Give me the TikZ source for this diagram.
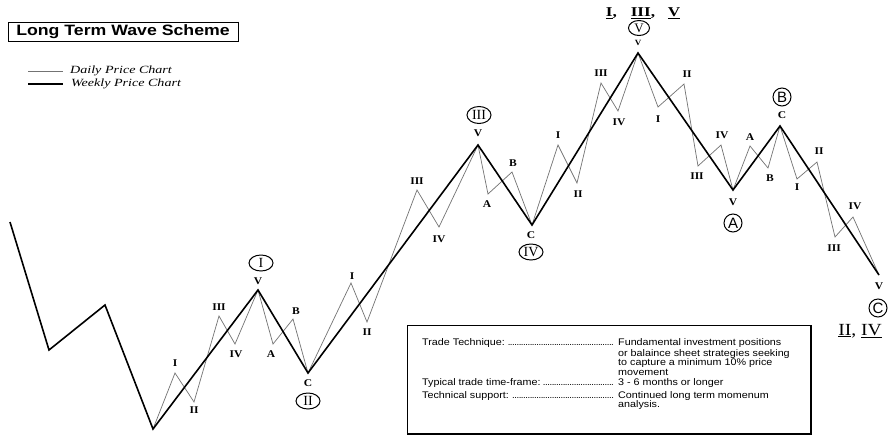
\documentclass[tikz,border=0pt]{standalone}
\usepackage{graphicx}
\usepackage{fontspec}
\setmainfont{Liberation Serif}
\newfontfamily\arialf{Liberation Sans}
\usetikzlibrary{shapes.geometric}
\newcommand\Xs[1]{\scalebox{1.12}[1]{#1}}
\newcommand\Xl[1]{\scalebox{1.12}[1]{#1}}
\begin{document}
\begin{tikzpicture}[x=1pt,y=-1pt,
  weekly/.style={line width=1.6pt, black, line join=miter},
  daily/.style={line width=0.7pt, black!55, line join=miter},
  lbl/.style={inner sep=0pt, font=\bfseries\fontsize{10.3}{10.3}\selectfont},
  smalllbl/.style={inner sep=0pt, font=\bfseries\fontsize{8}{8}\selectfont},
  cr/.style={draw, ellipse, line width=1pt, minimum width=24pt, minimum height=16pt, inner sep=0pt, font=\fontsize{14}{14}\selectfont},
  cl/.style={draw, circle, line width=1pt, minimum size=18pt, inner sep=0pt, font=\arialf\fontsize{15}{15}\selectfont},
  boxtxt/.style={inner sep=0pt, anchor=base west, font=\arialf\fontsize{9.6}{9.6}\selectfont},
  legtxt/.style={inner sep=0pt, anchor=west, font=\itshape\fontsize{11}{11}\selectfont}
]
\useasboundingbox (0,0) rectangle (889,437);
\fill[white] (0,0) rectangle (889,437);

% title and legend
\node[draw, line width=1pt, minimum width=230pt, minimum height=19pt, inner sep=0pt,
      font=\arialf\bfseries\fontsize{15}{15}\selectfont] (title) at (123,31.5)
      {\scalebox{1.18}[1]{Long Term Wave Scheme}};
\draw[line width=1.6pt] (title.north east) -- (title.south east) -- (title.south west);
\coordinate (lg1a) at (28,71); \coordinate (lg1b) at (63,71);
\coordinate (lg2a) at (28,84); \coordinate (lg2b) at (63,84);
\draw[line width=0.6pt, black!55] (lg1a) -- (lg1b);
\draw[line width=1.2pt] (lg2a) -- (lg2b);
\node[legtxt] (legd) at (70,71) {\scalebox{1.28}[1]{Daily Price Chart}};
\node[legtxt] (legw) at (71,84) {\scalebox{1.28}[1]{Weekly Price Chart}};

% weekly points
\coordinate (w0) at (10,222);
\coordinate (w1) at (49,350);
\coordinate (w2) at (105,305);
\coordinate (w3) at (153,429);
\coordinate (w4) at (258,290);
\coordinate (w5) at (308,373);
\coordinate (w6) at (478,145);
\coordinate (w7) at (532,225);
\coordinate (w8) at (638,53);
\coordinate (w9) at (733,190);
\coordinate (w10) at (780,126);
\coordinate (w11) at (879,275);
% daily points
\coordinate (a1) at (175,373); \coordinate (a2) at (194,402);
\coordinate (a3) at (219,316); \coordinate (a4) at (235,344);
\coordinate (a5) at (273,344); \coordinate (a6) at (293,319);
\coordinate (b1) at (351,283); \coordinate (b2) at (367,322);
\coordinate (b3) at (417,190); \coordinate (b4) at (439,227);
\coordinate (b5) at (488,194); \coordinate (b6) at (512,172);
\coordinate (c1) at (558,145); \coordinate (c2) at (577,183);
\coordinate (c3) at (601,83);  \coordinate (c4) at (618,111);
\coordinate (e1) at (658,107); \coordinate (e2) at (684,84);
\coordinate (e3) at (698,166); \coordinate (e4) at (721,145);
\coordinate (e5) at (750,146); \coordinate (e6) at (768,168);
\coordinate (f1) at (797,179); \coordinate (f2) at (817,162);
\coordinate (f3) at (835,237); \coordinate (f4) at (853,217);

\draw[daily] (w3) -- (a1) -- (a2) -- (a3) -- (a4) -- (w4) -- (a5) -- (a6) -- (w5)
  -- (b1) -- (b2) -- (b3) -- (b4) -- (w6) -- (b5) -- (b6) -- (w7)
  -- (c1) -- (c2) -- (c3) -- (c4) -- (w8) -- (e1) -- (e2) -- (e3) -- (e4) -- (w9)
  -- (e5) -- (e6) -- (w10) -- (f1) -- (f2) -- (f3) -- (f4) -- (w11);
\draw[weekly] (w0) -- (w1) -- (w2) -- (w3) -- (w4) -- (w5) -- (w6) -- (w7) -- (w8)
  -- (w9) -- (w10) -- (w11);

% wave labels
\node[lbl] (l1) at (175,363) {\Xl{I}};
\node[lbl] (l2) at (194,410) {\Xl{II}};
\node[lbl] (l3) at (219,307) {\Xl{III}};
\node[lbl] (l4) at (236,354) {\Xl{IV}};
\node[lbl] (l5) at (258,281) {\Xl{V}};
\node[lbl] (l6) at (271,354) {\Xl{A}};
\node[lbl] (l7) at (296,311) {\Xl{B}};
\node[lbl] (l8) at (308,383) {\Xl{C}};
\node[lbl] (m1) at (352,276) {\Xl{I}};
\node[lbl] (m2) at (367,332) {\Xl{II}};
\node[lbl] (m3) at (417,181) {\Xl{III}};
\node[lbl] (m4) at (439,239) {\Xl{IV}};
\node[lbl] (m5) at (478,133) {\Xl{V}};
\node[lbl] (m6) at (487,204) {\Xl{A}};
\node[lbl] (m7) at (513,163) {\Xl{B}};
\node[lbl] (m8) at (531,235) {\Xl{C}};
\node[lbl] (n1) at (558,135) {\Xl{I}};
\node[lbl] (n2) at (578,194) {\Xl{II}};
\node[lbl] (n3) at (601,73) {\Xl{III}};
\node[lbl] (n4) at (619,122) {\Xl{IV}};
\node[smalllbl] (n5) at (638,43) {\Xl{V}};
\node[lbl] (p1) at (658,119) {\Xl{I}};
\node[lbl] (p2) at (687,74) {\Xl{II}};
\node[lbl] (p3) at (697,176) {\Xl{III}};
\node[lbl] (p4) at (722,135) {\Xl{IV}};
\node[lbl] (p5) at (733,202) {\Xl{V}};
\node[lbl] (p6) at (750,137) {\Xl{A}};
\node[lbl] (p7) at (770,178) {\Xl{B}};
\node[lbl] (p8) at (782,115) {\Xl{C}};
\node[lbl] (q1) at (797,187) {\Xl{I}};
\node[lbl] (q2) at (819,151) {\Xl{II}};
\node[lbl] (q3) at (834,248) {\Xl{III}};
\node[lbl] (q4) at (855,206) {\Xl{IV}};
\node[lbl] (q5) at (879,286) {\Xl{V}};

% circled labels
\node[cr] (ci) at (261,263) {I};
\node[cr] (cii) at (308,401) {II};
\node[cr, minimum width=24pt, minimum height=17pt] (ciii) at (479,115) {III};
\node[cr] (civ) at (531,252) {IV};
\node[cr, minimum width=21pt, minimum height=15pt, font=\fontsize{13}{13}\selectfont] (cv) at (639,28) {V};
\node[cl] (ca) at (733,223) {A};
\node[cl] (cb) at (782,97) {B};
\node[cl] (cc) at (878,308) {C};

% top and bottom right big labels
\node[inner sep=0pt, font=\bfseries\fontsize{13.5}{13.5}\selectfont] (top) at (643,13)
  {\scalebox{1.27}[1]{\underline{I},\hspace{11pt}\underline{III},\hspace{10pt}\underline{V}}};
\node[inner sep=0pt, font=\fontsize{17}{17}\selectfont] (bot) at (860,331)
  {\scalebox{1.15}[1]{\underline{II}, \underline{IV}}};

% info box
\coordinate (bx1) at (407,325); \coordinate (bx2) at (811,434);
\draw[line width=0.8pt] (bx1) rectangle (bx2);
\coordinate (bxr) at (811,325); \coordinate (bxl) at (407,434);
\draw[line width=2.2pt] (bxr) -- (bx2) -- (bxl);
\def\dl{\leaders\hbox to 2.2pt{\hss.\hss}\hfill}
\node[boxtxt] (t1) at (422,345.5) {\hbox to 192pt{\Xs{Trade Technique:}\ \dl}};
\node[boxtxt] (t2) at (422,385.5) {\hbox to 192pt{\Xs{Typical trade time-frame:}\ \dl}};
\node[boxtxt] (t3) at (422,398.5) {\hbox to 192pt{\Xs{Technical support:}\ \dl}};
\node[boxtxt] (r1) at (618,345.5) {\Xs{Fundamental investment positions}};
\node[boxtxt] (r2) at (618,356) {\Xs{or balaince sheet strategies seeking}};
\node[boxtxt] (r3) at (618,365.5) {\Xs{to capture a minimum 10\% price}};
\node[boxtxt] (r4) at (618,375) {\Xs{movement}};
\node[boxtxt] (r5) at (618,385.5) {\Xs{3 - 6 months or longer}};
\node[boxtxt] (r6) at (618,398.5) {\Xs{Continued long term momenum}};
\node[boxtxt] (r7) at (618,407.5) {\Xs{analysis.}};
\end{tikzpicture}
\end{document}
